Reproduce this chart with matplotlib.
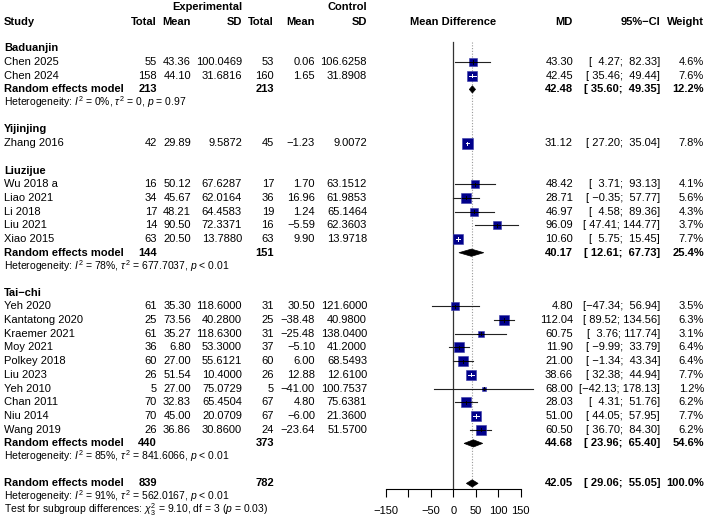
import matplotlib
matplotlib.use("Agg")
import matplotlib.pyplot as plt
from matplotlib.patches import Polygon
import numpy as np

plt.rcParams['font.family'] = ['Liberation Sans', 'DejaVu Sans']
plt.rcParams['mathtext.fontset'] = 'custom'
plt.rcParams['mathtext.rm'] = 'Liberation Sans'
plt.rcParams['mathtext.it'] = 'Liberation Sans:italic'
plt.rcParams['mathtext.bf'] = 'Liberation Sans:bold'

# ---- data ----
groups = ["Baduanjin", "Yijinjing", "Liuzijue", "Tai\u2212chi"]
study = ["Chen 2025", "Chen 2024", "Zhang 2016", "Wu 2018 a", "Liao 2021", "Li 2018",
         "Liu 2021", "Xiao 2015", "Yeh 2020", "Kantatong 2020", "Kraemer 2021", "Moy 2021",
         "Polkey 2018", "Liu 2023", "Yeh 2010", "Chan 2011", "Niu 2014", "Wang 2019"]
group_idx = [0, 0, 1, 2, 2, 2, 2, 2, 3, 3, 3, 3, 3, 3, 3, 3, 3, 3]
n_e = [55, 158, 42, 16, 34, 17, 14, 63, 61, 25, 61, 36, 60, 26, 5, 70, 70, 26]
mean_e = [43.36, 44.10, 29.89, 50.12, 45.67, 48.21, 90.50, 20.50, 35.30, 73.56, 35.27, 6.80,
          27.00, 51.54, 27.00, 32.83, 45.00, 36.86]
sd_e = [100.0469, 31.6816, 9.5872, 67.6287, 62.0164, 64.4583, 72.3371, 13.7880, 118.6000,
        40.2800, 118.6300, 53.3000, 55.6121, 10.4000, 75.0729, 65.4504, 20.0709, 30.8600]
n_c = [53, 160, 45, 17, 36, 19, 16, 63, 31, 25, 31, 37, 60, 26, 5, 67, 67, 24]
mean_c = [0.06, 1.65, -1.23, 1.70, 16.96, 1.24, -5.59, 9.90, 30.50, -38.48, -25.48, -5.10,
          6.00, 12.88, -41.00, 4.80, -6.00, -23.64]
sd_c = [106.6258, 31.8908, 9.0072, 63.1512, 61.9853, 65.1464, 62.3603, 13.9718, 121.6000,
        40.9800, 138.0400, 41.2000, 68.5493, 12.6100, 100.7537, 75.6381, 21.3600, 51.5700]
md = [43.30, 42.45, 31.12, 48.42, 28.71, 46.97, 96.09, 10.60, 4.80, 112.04, 60.75, 11.90,
      21.00, 38.66, 68.00, 28.03, 51.00, 60.50]
ci_lo = [4.27, 35.46, 27.20, 3.71, -0.35, 4.58, 47.41, 5.75, -47.34, 89.52, 3.76, -9.99,
         -1.34, 32.38, -42.13, 4.31, 44.05, 36.70]
ci_hi = [82.33, 49.44, 35.04, 93.13, 57.77, 89.36, 144.77, 15.45, 56.94, 134.56, 117.74,
         33.79, 43.34, 44.94, 178.13, 51.76, 57.95, 84.30]
weight = [4.6, 7.6, 7.8, 4.1, 5.6, 4.3, 3.7, 7.7, 3.5, 6.3, 3.1, 6.4, 6.4, 7.7, 1.2, 6.2, 7.7, 6.2]

# subgroup random effects summaries (None = single study, no summary)
sub_ne = [213, None, 144, 440]
sub_nc = [213, None, 151, 373]
sub_md = [42.48, None, 40.17, 44.68]
sub_lo = [35.60, None, 12.61, 23.96]
sub_hi = [49.35, None, 67.73, 65.40]
sub_w = [12.2, None, 25.4, 54.6]
sub_het = [r"Heterogeneity: $I^2$ = 0%, $\tau^2$ = 0, $p$ = 0.97", None,
           r"Heterogeneity: $I^2$ = 78%, $\tau^2$ = 677.7037, $p$ < 0.01",
           r"Heterogeneity: $I^2$ = 85%, $\tau^2$ = 841.6066, $p$ < 0.01"]

all_ne, all_nc = 839, 782
all_md, all_lo, all_hi, all_w = 42.05, 29.06, 55.05, 100.0
all_het = r"Heterogeneity: $I^2$ = 91%, $\tau^2$ = 562.0167, $p$ < 0.01"
test_txt = r"Test for subgroup differences: $\chi^2_3$ = 9.10, df = 3 ($p$ = 0.03)"

xticks = [-150, -100, -50, 0, 50, 100, 150]
xticklabels = ["\u2212150", "", "\u221250", "0", "50", "100", "150"]

# ---- layout (pixels) ----
W, H = 708, 520
ROW = 13.7
FS, FS_HET = 8, 7.5
X_STUDY = 4
X_NE, X_ME, X_SE = 157, 191, 242
X_NC, X_MC, X_SC = 274, 315, 367
X_MD, X_CI, X_W = 573, 660, 704
F_X0, F_X1, AXIS_Y, LINE_TOP = 385.8, 520.8, 489, 41.7
NAVY = "#00008B"


def num(v, d=2):
    return f"{v:.{d}f}".replace("-", "\u2212")


def ci(lo, hi):
    return f"[{lo:>6.2f}; {hi:>6.2f}]".replace("-", "\u2212")


fig = plt.figure(figsize=(W / 100, H / 100), dpi=100)
tax = fig.add_axes([0, 0, 1, 1])
tax.set_xlim(0, W)
tax.set_ylim(H, 0)
tax.axis("off")

fax = fig.add_axes([F_X0 / W, (H - AXIS_Y) / H, (F_X1 - F_X0) / W, AXIS_Y / H])
fax.set_xlim(-150, 150)
fax.set_ylim(AXIS_Y, 0)
fax.patch.set_visible(False)
for s in ["top", "left", "right"]:
    fax.spines[s].set_visible(False)
fax.spines["bottom"].set_linewidth(0.8)
fax.set_yticks([])
fax.set_xticks(xticks)
fax.set_xticklabels(xticklabels)
fax.tick_params(axis="x", length=5.5, width=0.8, labelsize=FS, pad=7)
px_per_unit = (F_X1 - F_X0) / 300.0


def t(x, y, s, ha="right", bold=False, fs=FS):
    tax.text(x, y, s, ha=ha, va="center", fontsize=fs,
             fontweight="bold" if bold else "normal")


# headers
t(X_SE, 7.5, "Experimental", bold=True)
t(X_SC, 7.5, "Control", bold=True)
y0 = 22.3
t(X_STUDY, y0, "Study", ha="left", bold=True)
for x, s in [(X_NE, "Total"), (X_ME, "Mean"), (X_SE, "SD"), (X_NC, "Total"),
             (X_MC, "Mean"), (X_SC, "SD"), (X_MD, "MD"), (X_CI, "95%\u2212CI"), (X_W, "Weight")]:
    t(x, y0, s, bold=True)
t(453.3, y0, "Mean Difference", ha="center", bold=True)

fax.plot([0, 0], [LINE_TOP, AXIS_Y], color="#333333", lw=0.9, zorder=1)
fax.plot([all_md, all_md], [LINE_TOP, AXIS_Y], color="#9a9a9a", lw=0.8,
         linestyle=(0, (1, 1.5)), zorder=1)


def diamond(y, m, lo, hi, half=3.6):
    fax.add_patch(Polygon([[lo, y], [m, y - half], [hi, y], [m, y + half]],
                          closed=True, facecolor="black", edgecolor="black", lw=0.5, zorder=4))


y = 48.3
for g, gname in enumerate(groups):
    t(X_STUDY, y, gname, ha="left", bold=True)
    idx = [i for i in range(len(study)) if group_idx[i] == g]
    for i in idx:
        y += ROW
        t(X_STUDY, y, study[i], ha="left")
        t(X_NE, y, str(n_e[i]))
        t(X_ME, y, num(mean_e[i]))
        t(X_SE, y, num(sd_e[i], 4))
        t(X_NC, y, str(n_c[i]))
        t(X_MC, y, num(mean_c[i]))
        t(X_SC, y, num(sd_c[i], 4))
        t(X_MD, y, num(md[i]))
        t(X_CI, y, ci(ci_lo[i], ci_hi[i]))
        t(X_W, y, f"{weight[i]:.1f}%")
        side = 11 * np.sqrt(weight[i] / 7.8)
        half_u = side / 2 / px_per_unit
        fax.plot([ci_lo[i], ci_hi[i]], [y, y], color="#222222", lw=0.8, zorder=2,
                 clip_on=False)
        fax.scatter([md[i]], [y], marker="s", s=(side * 0.72) ** 2, color=NAVY,
                    edgecolors="#3a3aa8", linewidths=0.4, zorder=3)
        inside = (md[i] - ci_lo[i]) < half_u and (ci_hi[i] - md[i]) < half_u
        c = "white" if inside else "black"
        a, b = (ci_lo[i], ci_hi[i]) if inside else (max(ci_lo[i], md[i] - half_u),
                                                     min(ci_hi[i], md[i] + half_u))
        fax.plot([a, b], [y, y], color=c, lw=0.7, zorder=4)
        fax.plot([md[i], md[i]], [y - 1.6, y + 1.6], color=c, lw=0.7, zorder=4)
    if sub_md[g] is None:
        y += 2 * ROW
        continue
    y += ROW
    t(X_STUDY, y, "Random effects model", ha="left", bold=True)
    t(X_NE, y, str(sub_ne[g]), bold=True)
    t(X_NC, y, str(sub_nc[g]), bold=True)
    t(X_MD, y, num(sub_md[g]), bold=True)
    t(X_CI, y, ci(sub_lo[g], sub_hi[g]), bold=True)
    t(X_W, y, f"{sub_w[g]:.1f}%", bold=True)
    diamond(y, sub_md[g], sub_lo[g], sub_hi[g])
    y += 13.2
    t(X_STUDY, y, sub_het[g], ha="left", fs=FS_HET)
    y += 26.8

t(X_STUDY, y, "Random effects model", ha="left", bold=True)
t(X_NE, y, str(all_ne), bold=True)
t(X_NC, y, str(all_nc), bold=True)
t(X_MD, y, num(all_md), bold=True)
t(X_CI, y, ci(all_lo, all_hi), bold=True)
t(X_W, y, f"{all_w:.1f}%", bold=True)
diamond(y, all_md, all_lo, all_hi)
t(X_STUDY, y + 12.6, all_het, ha="left", fs=FS_HET)
t(X_STUDY, y + 26.0, test_txt, ha="left", fs=FS_HET)

fig.savefig("out.png", dpi=100)
